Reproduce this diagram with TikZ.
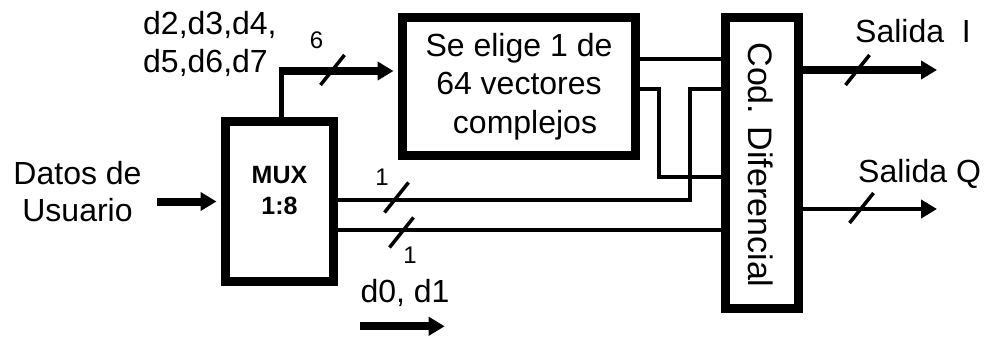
\documentclass[tikz,border=0pt]{standalone}
\usepackage{fontspec}
\setmainfont{Liberation Sans}
\usetikzlibrary{positioning,arrows.meta}

\begin{document}
\begin{tikzpicture}[
  x=1pt, y=-1pt,
  font=\fontsize{32}{38}\selectfont,
  box/.style={draw, line width=9pt, align=center, inner sep=0pt},
  wire/.style={line width=4pt},
  bus/.style={line width=8pt},
  arr/.style={-{Triangle[length=16pt,width=18pt]}},
  small/.style={font=\fontsize{24}{28}\selectfont, inner sep=0pt},
  busmark/.pic={\draw[line width=3.5pt] (-12,15) -- (12,-15);}]
\useasboundingbox (0,0) rectangle (987,337);

% blocks
\node[box, minimum width=108pt, minimum height=160pt] (mux) at (279.5,201.5) {};
\node[font=\fontsize{25}{30.5}\selectfont\bfseries, align=center] (muxtext) at ([yshift=11pt]mux.center) {MUX\\1:8};
\node[box, minimum width=233pt, minimum height=138pt, font=\fontsize{32}{38.5}\selectfont] (sel) at (519,86.5) {Se elige 1 de\\64 vectores\\\hspace*{12pt}complejos};
\node[box, minimum width=73pt, minimum height=291pt] (cod) at (762,163) {};
\node[rotate=-90, font=\fontsize{34}{40}\selectfont] (codtext) at (761,165) {Cod. Diferencial};

% labels
\node[align=center, font=\fontsize{32}{37}\selectfont] (datos) at (77.5,192) {Datos de\\Usuario};
\node[align=left, anchor=west, inner sep=0pt, font=\fontsize{32}{38}\selectfont] (dhi) at (143,44) {d2,d3,d4,\\d5,d6,d7};
\node[anchor=base, inner sep=0pt] (dlo) at (405,302) {d0, d1};
\node[anchor=base west, inner sep=0pt] (salI) at (855,42) {Salida~~I};
\node[anchor=base west, inner sep=0pt] (salQ) at (858,182) {Salida Q};
\node[small] (n6) at (316.5,40) {6};
\node[small] (n1a) at (382,177) {1};
\node[small] (n1b) at (410,255) {1};

% rows and columns of the wiring
\coordinate (k) at (281.5,71);
\coordinate (in) at (157,0);
\coordinate (r1) at (0,59);
\coordinate (r2) at (0,89);
\coordinate (r3) at (0,177);
\coordinate (r4) at (0,200);
\coordinate (r5) at (0,230);
\coordinate (c1) at (659,0);
\coordinate (c2) at (690,0);
\coordinate (outI) at (937,70);
\coordinate (outQ) at (937,209);

% connectors
\draw[bus, arr, shorten >=4.5pt] (in |- mux.west) -- (mux.west);
\draw[line width=5pt] (mux.north -| k) -- (k);
\draw[bus, arr, shorten >=4.5pt] ([xshift=-2.5pt]k) -- (sel.west |- k);
\draw[wire] (sel.east |- r1) -- (cod.west |- r1);
\draw[wire] (sel.east |- r2) -| (c1 |- r3) -- (cod.west |- r3);
\draw[wire] (mux.east |- r4) -| (c2 |- r2) -- (cod.west |- r2);
\draw[wire] (mux.east |- r5) -- (cod.west |- r5);
\draw[bus, arr] (outI -| cod.east) -- (outI);
\draw[wire, arr] (outQ -| cod.east) -- (outQ);
\draw[bus, arr] ([yshift=-20pt]dlo.south west) -- ([yshift=-20pt,xshift=-5pt]dlo.south east);

% bus width marks
\pic at (332.5,70) {busmark};
\pic at (396.5,197.5) {busmark};
\pic at (401.5,232.5) {busmark};
\pic at (857.5,70) {busmark};
\pic at (861.5,208) {busmark};
\end{tikzpicture}
\end{document}
